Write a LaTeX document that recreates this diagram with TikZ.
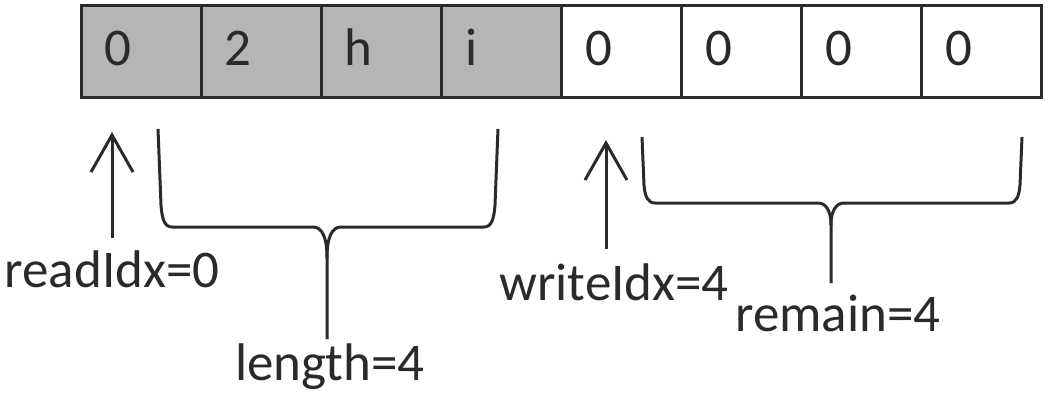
\documentclass[tikz,border=0pt]{standalone}
\usepackage{fontspec}
\setmainfont{Carlito}
\usetikzlibrary{arrows.meta}
\definecolor{ink}{HTML}{2A2A2A}
\definecolor{used}{HTML}{B5B5B5}
\begin{document}
\begin{tikzpicture}[x=1pt,y=1pt,
  cell/.style={draw=ink, line width=3pt, minimum width=120.1pt, minimum height=92pt, inner sep=0pt},
  celltext/.style={text=ink, font=\fontsize{53}{53}\selectfont, inner sep=0pt, anchor=base west},
  lbl/.style={text=ink, font=\fontsize{53}{53}\selectfont, inner sep=0pt, anchor=base},
  pointer/.style={draw=ink, line width=3pt, -{Straight Barb[length=37pt,width=42pt]}},
  brace/.style={draw=ink, line width=3pt, line join=round}]
\useasboundingbox (0,0) rectangle (1049,-394);

% buffer cells: four used (grey), four free (white)
\foreach \i/\t/\f in {0/0/used,1/2/used,2/h/used,3/i/used,4/0/white,5/0/white,6/0/white,7/0/white}{
  \node[cell, fill=\f] (c\i) at (141.05+\i*120.1,-51) {};
  \path (c\i.west) ++(25,-14) node[celltext] (t\i) {\t};
}

% read pointer
\node[lbl] (readlbl) at (112,-287) {readIdx=0};
\coordinate (readtip) at (112,-132);
\draw[pointer] ([yshift=12pt]readlbl.north) -- (readtip);

% brace over the stored bytes
\coordinate (b1l) at (158,-129);
\coordinate (b1r) at (498,-129);
\coordinate (b1m) at (327,-258);
\coordinate (b1e) at (327,-339);
\draw[brace] (b1l) -- (161,-205) .. controls (162,-220) and (165,-227) .. (172,-227)
  -- (313,-227) .. controls (322,-227) and (327,-237) .. (b1m) -- (b1e);
\draw[brace] (b1r) -- (495,-205) .. controls (494,-220) and (491,-227) .. (484,-227)
  -- (341,-227) .. controls (332,-227) and (327,-237) .. (b1m);
\node[lbl] (lenlbl) at (330,-380) {length=4};

% write pointer
\node[lbl] (writelbl) at (614,-300) {writeIdx=4};
\coordinate (writetip) at (606,-140);
\draw[pointer] ([yshift=14pt]writelbl.north -| writetip) -- (writetip);

% brace over the free space
\coordinate (b2l) at (642,-137);
\coordinate (b2r) at (1022,-137);
\coordinate (b2m) at (831,-225);
\coordinate (b2e) at (831,-283);
\draw[brace] (b2l) -- (644,-185) .. controls (645,-197) and (648,-203) .. (655,-203)
  -- (818,-203) .. controls (826,-203) and (831,-211) .. (b2m) -- (b2e);
\draw[brace] (b2r) -- (1020,-185) .. controls (1019,-197) and (1016,-203) .. (1009,-203)
  -- (844,-203) .. controls (836,-203) and (831,-211) .. (b2m);
\node[lbl] (remlbl) at (838,-331) {remain=4};
\end{tikzpicture}
\end{document}
